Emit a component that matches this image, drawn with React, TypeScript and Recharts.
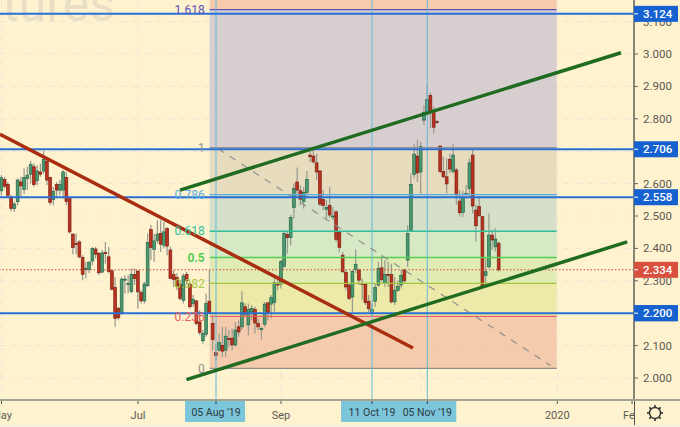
import React from "react";
import {
  ComposedChart, Bar, XAxis, YAxis, CartesianGrid, ReferenceLine, ReferenceArea, ReferenceDot,
} from "recharts";

const firstBar = -66;
const opens = [
  2.578, 2.613, 2.597, 2.559, 2.523, 2.544, 2.605, 2.582, 2.616, 2.629,
  2.652, 2.609, 2.636, 2.639, 2.669, 2.619, 2.551, 2.597, 2.580, 2.580,
  2.619, 2.557, 2.444, 2.415, 2.420, 2.372, 2.335, 2.335, 2.361, 2.398,
  2.384, 2.327, 2.387, 2.374, 2.331, 2.279, 2.215, 2.199, 2.302, 2.289,
  2.267, 2.319, 2.330, 2.264, 2.238, 2.285, 2.458, 2.397, 2.425, 2.446,
  2.410, 2.461, 2.395, 2.319, 2.310, 2.290, 2.240, 2.320, 2.290, 2.230,
  2.238, 2.173, 2.115, 2.135, 2.237, 2.168,
  2.078, 2.086, 2.101, 2.086, 2.122, 2.123, 2.102, 2.158, 2.158, 2.220,
  2.164, 2.204, 2.212, 2.168, 2.150, 2.166, 2.232, 2.228, 2.233, 2.292,
  2.290, 2.345, 2.443, 2.434, 2.526, 2.605, 2.578, 2.545, 2.573, 2.688,
  2.685, 2.664, 2.639, 2.551, 2.521, 2.533, 2.497, 2.513, 2.449, 2.379,
  2.326, 2.287, 2.250, 2.335, 2.333, 2.292, 2.289, 2.237, 2.201, 2.237,
  2.287, 2.340, 2.292, 2.320, 2.319, 2.235, 2.271, 2.287, 2.333, 2.364,
  2.456, 2.628, 2.685, 2.636, 2.796, 2.815, 2.872, 2.822, 2.791, 2.716,
  2.637, 2.621, 2.675, 2.637, 2.642, 2.546, 2.511, 2.568, 2.585, 2.688,
  2.518, 2.529, 2.498, 2.316, 2.343, 2.441, 2.405, 2.416,
];
const closes = [
  2.618, 2.592, 2.564, 2.523, 2.537, 2.611, 2.593, 2.619, 2.626, 2.659,
  2.597, 2.639, 2.629, 2.675, 2.611, 2.542, 2.576, 2.580, 2.597, 2.636,
  2.545, 2.451, 2.403, 2.412, 2.374, 2.320, 2.338, 2.358, 2.400, 2.382,
  2.325, 2.386, 2.384, 2.329, 2.274, 2.184, 2.186, 2.305, 2.305, 2.292,
  2.320, 2.307, 2.266, 2.238, 2.290, 2.418, 2.403, 2.423, 2.444, 2.413,
  2.451, 2.407, 2.307, 2.304, 2.284, 2.245, 2.315, 2.300, 2.220, 2.243,
  2.168, 2.140, 2.137, 2.230, 2.201, 2.119,
  2.069, 2.110, 2.083, 2.129, 2.119, 2.102, 2.148, 2.142, 2.232, 2.197,
  2.211, 2.215, 2.170, 2.158, 2.153, 2.228, 2.201, 2.248, 2.294, 2.287,
  2.359, 2.446, 2.433, 2.495, 2.585, 2.580, 2.552, 2.573, 2.613, 2.683,
  2.667, 2.636, 2.537, 2.532, 2.526, 2.503, 2.500, 2.428, 2.403, 2.328,
  2.281, 2.245, 2.329, 2.351, 2.302, 2.289, 2.233, 2.214, 2.212, 2.279,
  2.338, 2.304, 2.320, 2.317, 2.235, 2.271, 2.283, 2.317, 2.300, 2.446,
  2.597, 2.691, 2.633, 2.714, 2.820, 2.860, 2.825, 2.774, 2.788, 2.637,
  2.621, 2.599, 2.645, 2.688, 2.565, 2.510, 2.558, 2.570, 2.664, 2.531,
  2.470, 2.501, 2.282, 2.328, 2.441, 2.426, 2.429, 2.334,
];
const highs = [
  2.626, 2.621, 2.605, 2.564, 2.544, 2.616, 2.621, 2.647, 2.652, 2.670,
  2.662, 2.657, 2.662, 2.701, 2.678, 2.621, 2.590, 2.605, 2.611, 2.642,
  2.636, 2.559, 2.446, 2.446, 2.425, 2.379, 2.359, 2.359, 2.405, 2.405,
  2.389, 2.395, 2.420, 2.405, 2.333, 2.312, 2.220, 2.312, 2.317, 2.317,
  2.338, 2.338, 2.333, 2.271, 2.297, 2.446, 2.472, 2.446, 2.487, 2.487,
  2.482, 2.467, 2.405, 2.333, 2.323, 2.302, 2.323, 2.328, 2.292, 2.256,
  2.240, 2.209, 2.148, 2.261, 2.333, 2.194,
  2.106, 2.137, 2.158, 2.158, 2.148, 2.153, 2.173, 2.178, 2.268, 2.230,
  2.230, 2.225, 2.220, 2.184, 2.158, 2.235, 2.235, 2.256, 2.307, 2.317,
  2.364, 2.451, 2.456, 2.503, 2.600, 2.650, 2.595, 2.590, 2.639, 2.708,
  2.714, 2.693, 2.642, 2.580, 2.549, 2.590, 2.528, 2.518, 2.456, 2.389,
  2.333, 2.292, 2.333, 2.397, 2.338, 2.307, 2.292, 2.256, 2.230, 2.292,
  2.359, 2.379, 2.364, 2.359, 2.353, 2.312, 2.302, 2.333, 2.338, 2.472,
  2.631, 2.724, 2.736, 2.729, 2.843, 2.907, 2.881, 2.837, 2.796, 2.716,
  2.683, 2.678, 2.693, 2.724, 2.649, 2.580, 2.578, 2.596, 2.678, 2.709,
  2.534, 2.560, 2.498, 2.369, 2.508, 2.457, 2.462, 2.421,
];
const lows = [
  2.564, 2.585, 2.559, 2.515, 2.513, 2.533, 2.559, 2.569, 2.580, 2.600,
  2.590, 2.595, 2.621, 2.631, 2.595, 2.533, 2.533, 2.559, 2.564, 2.554,
  2.533, 2.446, 2.382, 2.382, 2.369, 2.302, 2.307, 2.323, 2.348, 2.369,
  2.317, 2.323, 2.353, 2.323, 2.271, 2.158, 2.178, 2.194, 2.261, 2.261,
  2.261, 2.287, 2.214, 2.230, 2.230, 2.281, 2.364, 2.359, 2.415, 2.389,
  2.400, 2.379, 2.307, 2.281, 2.271, 2.240, 2.230, 2.287, 2.214, 2.220,
  2.163, 2.132, 2.106, 2.127, 2.199, 2.086,
  2.055, 2.081, 2.065, 2.065, 2.096, 2.086, 2.096, 2.127, 2.148, 2.189,
  2.132, 2.178, 2.137, 2.148, 2.119, 2.158, 2.178, 2.184, 2.204, 2.271,
  2.276, 2.338, 2.384, 2.410, 2.492, 2.559, 2.533, 2.523, 2.559, 2.667,
  2.662, 2.611, 2.530, 2.518, 2.492, 2.495, 2.487, 2.420, 2.389, 2.323,
  2.271, 2.240, 2.204, 2.323, 2.287, 2.240, 2.225, 2.204, 2.189, 2.220,
  2.281, 2.297, 2.281, 2.281, 2.230, 2.225, 2.266, 2.276, 2.292, 2.343,
  2.451, 2.616, 2.605, 2.569, 2.781, 2.812, 2.771, 2.755, 2.786, 2.632,
  2.616, 2.570, 2.632, 2.632, 2.534, 2.498, 2.498, 2.555, 2.560, 2.508,
  2.421, 2.498, 2.277, 2.287, 2.338, 2.395, 2.390, 2.328,
];

const candles = opens.map((open, i) => ({
  bar: firstBar + i, open, close: closes[i], high: highs[i], low: lows[i],
  range: [lows[i], highs[i]],
}));

const priceTicks = [2.0, 2.1, 2.2, 2.3, 2.4, 2.5, 2.6, 2.7, 2.8, 2.9, 3.0, 3.1];
const blueLevels = [3.124, 2.706, 2.558, 2.2];
const lastPrice = 2.334;
const timeTicks = [
  { bar: -66, text: "May" }, { bar: -24, text: "Jul" }, { bar: 20, text: "Sep" },
  { bar: 105, text: "2020" }, { bar: 128, text: "Feb" },
];
const gridBars = [-66, -24, 20, 63, 105];
const markedDates = [
  { bar: 0, text: "05 Aug '19" }, { bar: 48, text: "11 Oct '19" }, { bar: 65, text: "05 Nov '19" },
];

const fibLeft = -1.95;
const fibRight = 104.8;
const fibTop = 3.1667;
const fibLevels = [
  { name: "1.618", price: 3.137, color: "#5a50b8" },
  { name: "1", price: 2.711, color: "#8f8f8f" },
  { name: "0.786", price: 2.566, color: "#58aee0" },
  { name: "0.618", price: 2.453, color: "#2fc09a" },
  { name: "0.5", price: 2.372, color: "#55d055" },
  { name: "0.382", price: 2.292, color: "#a4c83c" },
  { name: "0.236", price: 2.19, color: "#e8605a" },
  { name: "0", price: 2.03, color: "#8f8f8f" },
];
const fibZones = [
  { from: 3.137, to: fibTop, fill: "#f5c8a8" },
  { from: 2.711, to: 3.137, fill: "#d4cbcf" },
  { from: 2.566, to: 2.711, fill: "#e6dabe" },
  { from: 2.453, to: 2.566, fill: "#d3dec8" },
  { from: 2.372, to: 2.453, fill: "#d4e8c3" },
  { from: 2.292, to: 2.372, fill: "#deeab2" },
  { from: 2.19, to: 2.292, fill: "#ece9a6" },
  { from: 2.03, to: 2.19, fill: "#f4c8aa" },
];
const fibDiagonal = [{ x: 0.6, y: 2.708 }, { x: 103, y: 2.038 }];
const redTrend = [{ x: -66.46, y: 2.752 }, { x: 60.6, y: 2.0926 }];
const greenUpper = [{ x: -11.08, y: 2.58 }, { x: 124.6, y: 3.004 }];
const greenLower = [{ x: -9.08, y: 1.995 }, { x: 126.5, y: 2.42 }];

const FONT = "Roboto, 'Liberation Sans', sans-serif";
const BG = "#fff2cf";
const BLUE = "#2b6fd6";
const TAG_BLUE = "#1461cf";
const TAG_RED = "#d9503f";
const TAG_DATE = "#7cc6db";
const V_LINE = "#63bbdc";
const TICK_GAP = 6;

const Candle = (props: any) => {
  const { x, y, width, height, payload } = props;
  const cx = x + width / 2;
  const span = payload.high - payload.low || 1;
  const toY = (v: number) => y + ((payload.high - v) / span) * height;
  const top = toY(Math.max(payload.open, payload.close));
  const bottom = toY(Math.min(payload.open, payload.close));
  const up = payload.close >= payload.open;
  return (
    <g>
      <line x1={cx} x2={cx} y1={y} y2={y + height} stroke="#9c9d92" strokeWidth={1.3} />
      <rect
        x={cx - 1.4}
        y={top}
        width={2.8}
        height={Math.max(bottom - top, 1)}
        fill={up ? "#4d9a70" : "#b9331f"}
        stroke={up ? "#24654a" : "#7d2014"}
        strokeWidth={0.7}
      />
    </g>
  );
};

const PriceTick = (props: any) => {
  const { y, payload } = props;
  const x = props.x - TICK_GAP;
  const v = payload.value;
  const isBlue = blueLevels.includes(v);
  const isLast = v === lastPrice;
  const fill = isBlue ? TAG_BLUE : isLast ? TAG_RED : null;
  return (
    <g>
      {fill && <rect x={x} y={y - 8} width={44} height={16} fill={fill} />}
      <line x1={x} x2={x + 4} y1={y} y2={y} stroke={fill ? "#ffffff" : "#666"} strokeWidth={1} />
      <text
        x={x + 9}
        y={y + 4}
        fontFamily={FONT}
        fontSize={11.5}
        fontWeight={fill ? 500 : 400}
        fill={fill ? "#ffffff" : "#5a5a55"}
      >
        {v.toFixed(3)}
      </text>
    </g>
  );
};

const TimeTick = (props: any) => {
  const { x, payload } = props;
  const y = props.y - TICK_GAP;
  const marked = markedDates.find((d) => d.bar === payload.value);
  if (marked) {
    const left = marked.bar === 65 ? 27 : 31;
    return (
      <g>
        <rect x={x - left} y={y} width={left + 29} height={22} fill={TAG_DATE} />
        <line x1={x} x2={x} y1={y} y2={y + 4} stroke="#3a3a3a" />
        <text x={x} y={y + 15.5} textAnchor="middle" fontFamily={FONT} fontSize={10.5} fill="#2d3a40">
          {marked.text}
        </text>
      </g>
    );
  }
  const t = timeTicks.find((d) => d.bar === payload.value);
  return (
    <g>
      <line x1={x} x2={x} y1={y} y2={y + 4} stroke="#555" />
      <text x={x} y={y + 18.5} textAnchor="middle" fontFamily={FONT} fontSize={11} fill="#5a5a55">
        {t ? t.text : ""}
      </text>
    </g>
  );
};

export default function App() {
  return (
    <div style={{ position: "fixed", left: 0, top: 0, width: 680, height: 427, background: BG, overflow: "hidden" }}>
      <div
        style={{
          position: "absolute", right: 565, top: -27, fontFamily: FONT, fontSize: 50, lineHeight: "62px",
          color: "#e9dfc4", whiteSpace: "nowrap",
        }}
      >
        Futures
      </div>
      <div style={{ position: "absolute", left: 0, top: 0 }}>
        <ComposedChart
          width={680}
          height={427}
          data={candles}
          margin={{ top: 0, right: 0, bottom: 0, left: 0 }}
          style={{ background: "transparent" }}
        >
          <CartesianGrid
            stroke="#ece5d6"
            strokeDasharray="6 6"
            horizontalValues={priceTicks}
            verticalValues={gridBars}
          />
          <XAxis
            dataKey="bar"
            type="number"
            domain={[-66.46, 128.6]}
            allowDataOverflow
            ticks={[...timeTicks.map((t) => t.bar), ...markedDates.map((d) => d.bar)]}
            interval={0}
            height={27}
            axisLine={false}
            tickLine={false}
            tick={<TimeTick />}
            tickMargin={0}
          />
          <YAxis
            orientation="right"
            type="number"
            domain={[1.9321, 3.1667]}
            allowDataOverflow
            ticks={[...priceTicks, lastPrice, ...blueLevels]}
            interval={0}
            width={46}
            axisLine={{ stroke: "#555", strokeWidth: 1.4 }}
            tickLine={false}
            tick={<PriceTick />}
            tickMargin={0}
          />
          {fibZones.map((z) => (
            <ReferenceArea
              key={z.from}
              x1={fibLeft}
              x2={fibRight}
              y1={z.from}
              y2={z.to}
              fill={z.fill}
              fillOpacity={0.92}
              stroke="none"
              ifOverflow="visible"
            />
          ))}
          {fibLevels.map((l) => (
            <ReferenceLine
              key={l.name}
              segment={[{ x: fibLeft, y: l.price }, { x: fibRight, y: l.price }]}
              stroke={l.color}
              strokeWidth={1.3}
              ifOverflow="visible"
            />
          ))}
          <ReferenceLine
            y={lastPrice}
            stroke="#d0402f"
            strokeDasharray="1.5 2"
            strokeWidth={1}
          />
          <Bar dataKey="range" barSize={3} shape={<Candle />} isAnimationActive={false} />
          {markedDates.map((d) => (
            <ReferenceLine key={d.bar} x={d.bar} stroke={V_LINE} strokeWidth={1} />
          ))}
          <ReferenceLine
            segment={fibDiagonal}
            stroke="#8f8f8d"
            strokeWidth={1.2}
            strokeDasharray="7 7"
            ifOverflow="visible"
          />
          {blueLevels.map((v) => (
            <ReferenceLine key={v} y={v} stroke={BLUE} strokeWidth={2} />
          ))}
          <ReferenceLine segment={redTrend} stroke="#a92d10" strokeWidth={3.5} ifOverflow="visible" />
          <ReferenceLine segment={greenUpper} stroke="#1f6b20" strokeWidth={3.5} ifOverflow="visible" />
          <ReferenceLine segment={greenLower} stroke="#1f6b20" strokeWidth={3.5} ifOverflow="visible" />
          {fibLevels.map((l) => (
            <ReferenceDot
              key={l.name}
              x={fibLeft}
              y={l.price}
              r={0}
              stroke="none"
              ifOverflow="visible"
              label={{
                value: l.name,
                position: "left",
                fill: l.color,
                fontSize: 12,
                fontFamily: FONT,
                fontWeight: l.name === "0.5" ? 700 : 400,
              }}
            />
          ))}
        </ComposedChart>
      </div>
      <div style={{ position: "absolute", left: 0, top: 399, width: 680, height: 2, background: "#a3a392" }} />
      <div style={{ position: "absolute", left: 0, top: 425, width: 680, height: 2, background: "#f3ecdf" }} />
      <div style={{ position: "absolute", left: 634, top: 401, width: 46, height: 24, background: BG, borderLeft: "1.4px solid #555" }}>
        <svg width={46} height={24} style={{ display: "block" }}>
          <circle cx={20} cy={12} r={5.5} fill="none" stroke="#333" strokeWidth={1.4} />
          {[0, 45, 90, 135, 180, 225, 270, 315].map((a) => (
            <line
              key={a}
              x1={20 + 5.5 * Math.cos((a * Math.PI) / 180)}
              y1={12 + 5.5 * Math.sin((a * Math.PI) / 180)}
              x2={20 + 8 * Math.cos((a * Math.PI) / 180)}
              y2={12 + 8 * Math.sin((a * Math.PI) / 180)}
              stroke="#333"
              strokeWidth={1.6}
            />
          ))}
        </svg>
      </div>
    </div>
  );
}
